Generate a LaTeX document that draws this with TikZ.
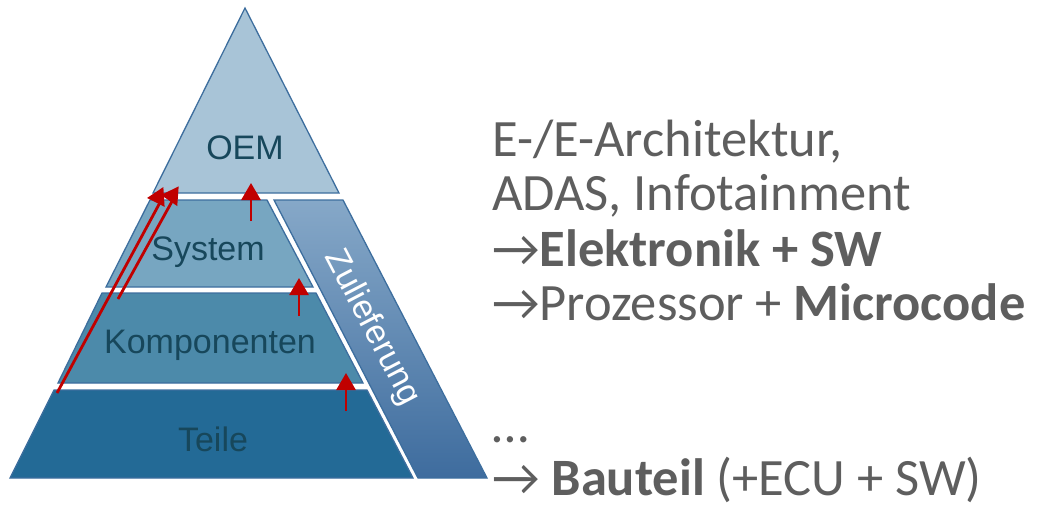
\documentclass[tikz,border=0pt]{standalone}
\usepackage{fontspec}
\setmainfont{Carlito}
\newfontfamily\levelfont{Liberation Sans}
\usetikzlibrary{arrows.meta}

\definecolor{edgeblue}{HTML}{3D6E9E}
\definecolor{oemfill}{HTML}{A8C4D7}
\definecolor{sysfill}{HTML}{77A6C1}
\definecolor{kompfill}{HTML}{4C8AAA}
\definecolor{teilfill}{HTML}{236A96}
\definecolor{zultop}{HTML}{86A8C8}
\definecolor{zulbot}{HTML}{3E6C9E}
\definecolor{leveltext}{HTML}{17475B}
\definecolor{arrowred}{HTML}{C00000}
\definecolor{notegray}{HTML}{5E5E5E}

\tikzset{
  level/.style={draw=edgeblue, line width=1.3pt, line join=miter},
  levellabel/.style={font=\levelfont\fontsize{34}{34}\selectfont, text=leveltext, inner sep=0pt},
  redarrow/.style={draw=arrowred, line width=2.8pt, line join=round,
    -{Triangle[width=19pt,length=17pt]}},
  note/.style={font=\fontsize{52.5}{52.5}\selectfont, text=notegray, anchor=base west, inner sep=0pt},
}

\begin{document}
\begin{tikzpicture}[x=1pt,y=-1pt]
\useasboundingbox (0,0) rectangle (1038,508);

% pyramid levels
\path[level, fill=oemfill] (245,8) -- (339,193) -- (153,193) -- cycle;
\path[level, fill=sysfill] (150,200) -- (267,200) -- (313,287) -- (106,287) -- cycle;
\path[level, fill=kompfill] (102,293) -- (316,293) -- (363,383) -- (58,383) -- cycle;
\path[level, fill=teilfill] (54,390) -- (367,390) -- (413,478) -- (10,478) -- cycle;
% supplier band
\path[level, top color=zultop, bottom color=zulbot] (274,200) -- (343,200) -- (487,478) -- (418,478) -- cycle;

% labels
\node[levellabel] (oem) at (245,148) {OEM};
\node[levellabel] (sys) at (208,252) {System};
\node[levellabel] (komp) at (210,345) {Komponenten};
\node[levellabel] (teile) at (213,439) {Teile};
\node[levellabel, text=white, rotate=-62.5] (zul) at (372,328) {Zulieferung};

% red arrows
\coordinate (a1s) at (57,393);
\coordinate (a1b) at (163,197);
\coordinate (a1e) at (147,198);
\coordinate (a2s) at (118,299);
\coordinate (a2b) at (175,196);
\coordinate (a2e) at (161,195);
\coordinate (a3s) at (251,221);
\coordinate (a3e) at (251,183);
\coordinate (a4s) at (299,316);
\coordinate (a4e) at (299,278);
\coordinate (a5s) at (346,411);
\coordinate (a5e) at (346,373);
\draw[redarrow] (a1s) -- (a1b) -- (a1e);
\draw[redarrow] (a2s) -- (a2b) -- (a2e);
\draw[redarrow] (a3s) -- (a3e);
\draw[redarrow] (a4s) -- (a4e);
\draw[redarrow] (a5s) -- (a5e);

% notes on the right
\node[note] (n1) at (492,157) {E-/E-Architektur,};
\node[note] (n2) at (492,210) {ADAS, Infotainment};
\node[note] (n3) at (492,266) {→\textbf{Elektronik + SW}};
\node[note] (n4) at (492,320) {→Prozessor + \textbf{Microcode}};
\node[note] (n5) at (492,442) {…};
\node[note] (n6) at (492,495) {→ \textbf{Bauteil} (+ECU + SW)};
\end{tikzpicture}
\end{document}
